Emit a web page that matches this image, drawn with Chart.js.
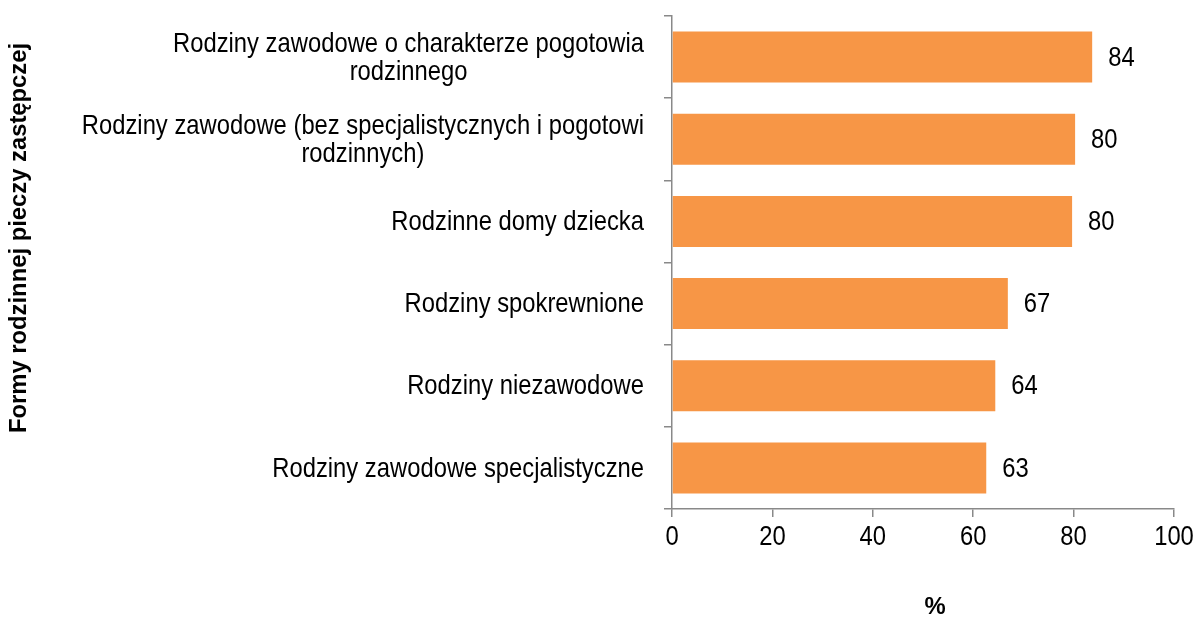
<!DOCTYPE html>
<html>
<head>
<meta charset="utf-8">
<script src="https://cdn.jsdelivr.net/npm/chart.js@4"></script>
<style>
  html, body { margin: 0; padding: 0; background: #fff; }
  #wrap { width: 1198px; height: 617px; }
</style>
</head>
<body>
<div id="wrap"><canvas id="grafico" width="1198" height="617"></canvas></div>
<script>
    // dane
    const kategorie = [
        ['Rodziny zawodowe o charakterze pogotowia', 'rodzinnego'],
        ['Rodziny zawodowe (bez specjalistycznych i pogotowi', 'rodzinnych)'],
        ['Rodzinne domy dziecka'],
        ['Rodziny spokrewnione'],
        ['Rodziny niezawodowe'],
        ['Rodziny zawodowe specjalistyczne']
    ];
    const wartosci = [83.7, 80.3, 79.7, 66.9, 64.4, 62.6];
    const etykiety = ['84', '80', '80', '67', '64', '63'];
    const osX = [0, 20, 40, 60, 80, 100];
    const tytulY = 'Formy rodzinnej pieczy zastępczej';
    const tytulX = '%';

    const rodzina = "'Liberation Sans', Arial, sans-serif";
    const osKolor = '#898989';
    const scisk = 0.85; // brak Arial Narrow - ściskamy w poziomie

    // tekst zwężony (udaje Arial Narrow)
    function waski(c, txt, x, y, align) {
        c.save();
        c.translate(x, y);
        c.scale(scisk, 1);
        c.textAlign = align;
        c.fillText(txt, 0, 0);
        c.restore();
    }

    // rysowanie etykiet i tytułów
    const napisy = {
        id: 'napisy',
        afterDraw(chart) {
            const c = chart.ctx;
            const y = chart.scales.y;
            const x = chart.scales.x;
            const meta = chart.getDatasetMeta(0);
            c.save();
            c.fillStyle = '#000';
            c.font = '28px ' + rodzina;
            c.textBaseline = 'middle';

            // kategorie: blok wyrównany do prawej, linie wyśrodkowane
            const prawa = y.right - 28;
            kategorie.forEach((linie, i) => {
                const cy = y.getPixelForValue(i);
                const szer = Math.max(...linie.map(l => c.measureText(l).width)) * scisk;
                const srodek = prawa - szer / 2;
                const lh = 28;
                const start = cy + 1 - (linie.length - 1) * lh / 2;
                linie.forEach((l, j) => waski(c, l, srodek, start + j * lh, 'center'));
            });

            // wartości
            meta.data.forEach((bar, i) => {
                waski(c, etykiety[i], bar.x + 16, bar.y + 1, 'left');
            });

            // opisy osi X
            osX.forEach(v => waski(c, String(v), x.getPixelForValue(v), 537, 'center'));

            // tytuły osi
            c.font = 'bold 23.8px ' + rodzina;
            c.textAlign = 'center';
            c.fillText(tytulX, 935, 607);
            c.translate(19, 238);
            c.rotate(-Math.PI / 2);
            c.fillText(tytulY, 0, 0);
            c.restore();
        }
    };

    const ctx = document.getElementById('grafico').getContext('2d');
    const grafico = new Chart(ctx, {
        type: 'bar',
        data: {
            labels: kategorie,
            datasets: [{
                data: wartosci,
                backgroundColor: '#F79646',
                borderWidth: 0,
                categoryPercentage: 1,
                barPercentage: 0.62
            }]
        },
        options: {
            indexAxis: 'y',
            responsive: false,
            animation: false,
            layout: { padding: { left: 0, right: 24, top: 16, bottom: 0 } },
            plugins: {
                legend: { display: false },
                tooltip: { enabled: false }
            },
            scales: {
                y: {
                    ticks: { display: false },
                    grid: {
                        drawOnChartArea: false,
                        tickLength: 8,
                        color: osKolor,
                        lineWidth: 1.5
                    },
                    border: { color: osKolor, width: 1.5 },
                    afterFit(s) { s.width = 672; }
                },
                x: {
                    min: 0,
                    max: 100,
                    ticks: { stepSize: 20, display: false },
                    grid: {
                        drawOnChartArea: false,
                        tickLength: 8,
                        color: osKolor,
                        lineWidth: 1.5
                    },
                    border: { color: osKolor, width: 1.5 },
                    afterFit(s) {
                        s.height = 108;
                        s.paddingLeft = 0;
                        s.paddingRight = 0;
                    }
                }
            }
        },
        plugins: [napisy]
    });
</script>
</body>
</html>
